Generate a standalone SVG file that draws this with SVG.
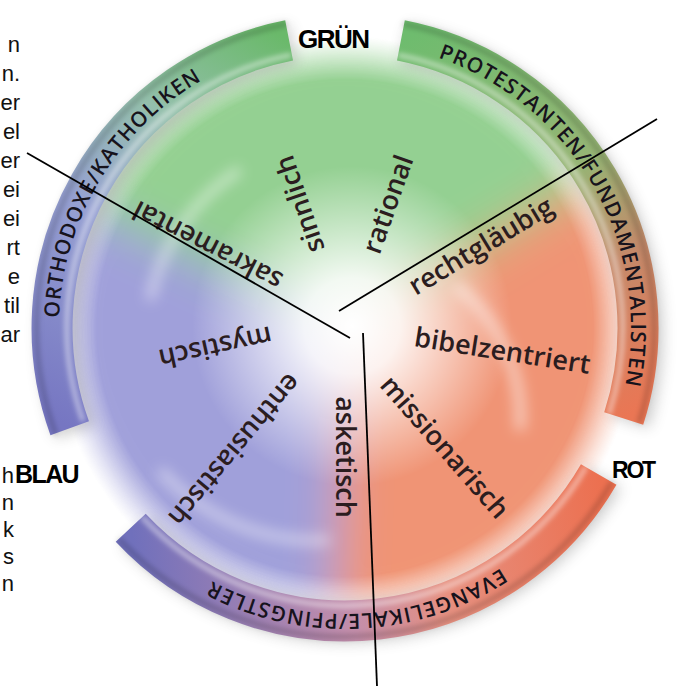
<svg xmlns="http://www.w3.org/2000/svg" width="679" height="686" viewBox="0 0 679 686">
<defs>
  <style>
    .frag{font-family:"Liberation Sans",Arial,sans-serif;font-size:22px;fill:#111;text-anchor:end}
    .lbl{font-family:"Liberation Sans",Arial,sans-serif;font-weight:bold;fill:#000}
    .word{font-family:"Open Sans","Noto Sans",sans-serif;font-weight:600;font-size:27px;fill:#2b1d1f;text-anchor:middle}
    .ring{font-family:"Open Sans","Noto Sans",sans-serif;font-weight:600;font-size:21px;fill:#17131c;letter-spacing:1px}
    .conn{stroke:#000;stroke-width:1.8;fill:none}
    .band{fill:none;stroke-width:41;stroke-linecap:butt}
  </style>
  <filter id="blurBig" x="-30%" y="-30%" width="160%" height="160%"><feGaussianBlur stdDeviation="24"/></filter>
  <filter id="blurMid" x="-20%" y="-20%" width="140%" height="140%"><feGaussianBlur stdDeviation="7"/></filter>
  <filter id="blurSm" x="-10%" y="-10%" width="120%" height="120%"><feGaussianBlur stdDeviation="2.5"/></filter>
  <radialGradient id="discMaskG" cx="345" cy="328" r="292" gradientUnits="userSpaceOnUse">
    <stop offset="0.85" stop-color="#fff"/>
    <stop offset="1" stop-color="#000"/>
  </radialGradient>
  <mask id="discMask"><rect width="679" height="686" fill="url(#discMaskG)"/></mask>
  <radialGradient id="whiteC" cx="352" cy="326" r="160" gradientUnits="userSpaceOnUse">
    <stop offset="0" stop-color="#fff" stop-opacity="1"/>
    <stop offset="0.3" stop-color="#fff" stop-opacity="0.88"/>
    <stop offset="1" stop-color="#fff" stop-opacity="0"/>
  </radialGradient>
  <linearGradient id="gLeft" gradientUnits="userSpaceOnUse" x1="70" y1="428" x2="289" y2="40">
    <stop offset="0" stop-color="#7676c2"/>
    <stop offset="0.45" stop-color="#96a0d2"/>
    <stop offset="0.72" stop-color="#94bfac"/>
    <stop offset="1" stop-color="#6ab96a"/>
  </linearGradient>
  <linearGradient id="gRight" gradientUnits="userSpaceOnUse" x1="401" y1="40" x2="624" y2="418">
    <stop offset="0" stop-color="#6ebc6e"/>
    <stop offset="0.45" stop-color="#96b474"/>
    <stop offset="0.68" stop-color="#c48a6a"/>
    <stop offset="1" stop-color="#ea7654"/>
  </linearGradient>
  <linearGradient id="gBottom" gradientUnits="userSpaceOnUse" x1="599" y1="474" x2="131" y2="528">
    <stop offset="0" stop-color="#ec7050"/>
    <stop offset="0.35" stop-color="#e69080"/>
    <stop offset="0.55" stop-color="#c48eaa"/>
    <stop offset="1" stop-color="#7070bc"/>
  </linearGradient>
  <path id="tpLeft" d="M59.2,318 A286,286 0 0 1 256.6,56"/>
  <path id="tpRight" d="M438.1,57.6 A286,286 0 0 1 610.2,435.1"/>
  <path id="tpBottom" d="M500.8,567.9 A286,286 0 0 1 181,562.3"/>
</defs>

<rect width="679" height="686" fill="#fff"/>

<!-- coloured disc -->
<g id="disc" mask="url(#discMask)">
  <g filter="url(#blurBig)">
    <path d="M345,328 L73.1,201.2 A300,300 0 0 1 602.2,173.5 Z" fill="#94d092"/>
    <path d="M345,328 L602.2,173.5 A300,300 0 0 1 334.5,627.8 Z" fill="#f09474"/>
    <path d="M345,328 L334.5,627.8 A300,300 0 0 1 73.1,201.2 Z" fill="#a0a0da"/>
  </g>
  <g filter="url(#blurMid)" fill="none" stroke="#fff" stroke-opacity="0.55">
    <path d="M160,470 A210,210 0 0 0 330,540" stroke-width="8"/>
    <path d="M455,285 A170,170 0 0 1 520,430" stroke-width="10"/>
    <path d="M150,300 A200,200 0 0 1 240,170" stroke-width="8"/>
  </g>
  <circle cx="352" cy="326" r="170" fill="url(#whiteC)"/>
</g>

<!-- ring shadow -->
<g filter="url(#blurMid)" opacity="0.28" fill="none" stroke="#555" stroke-width="40">
  <path d="M75,432 A296,296 0 0 1 293,44"/>
  <path d="M404,44 A296,296 0 0 1 630,422"/>
  <path d="M604,478 A296,296 0 0 1 136,532"/>
</g>

<!-- ring bands -->
<g id="ring-orthodoxe">
  <path class="band" d="M69.7,428.2 A293,293 0 0 1 289.1,40.4" stroke="url(#gLeft)"/>
  <text class="ring"><textPath href="#tpLeft">ORTHODOXE/KATHOLIKEN</textPath></text>
</g>
<g id="ring-protestanten">
  <path class="band" d="M400.9,40.4 A293,293 0 0 1 623.7,418.5" stroke="url(#gRight)"/>
  <text class="ring"><textPath href="#tpRight">PROTESTANTEN/FUNDAMENTALISTEN</textPath></text>
</g>
<g id="ring-evangelikale">
  <path class="band" d="M598.7,474.5 A293,293 0 0 1 130.7,527.8" stroke="url(#gBottom)"/>
  <text class="ring"><textPath href="#tpBottom">EVANGELIKALE/PFINGSTLER</textPath></text>
</g>
<g filter="url(#blurSm)" fill="none">
  <g stroke="#fff" stroke-opacity="0.45" stroke-width="5">
    <path d="M83,421 A278,278 0 0 1 291,55"/>
    <path d="M398,55 A278,278 0 0 1 609,414"/>
    <path d="M586,467 A278,278 0 0 1 142,517"/>
  </g>
  <g stroke="#000" stroke-opacity="0.18" stroke-width="5">
    <path d="M56,435 A309,309 0 0 1 287,24"/>
    <path d="M403,24 A309,309 0 0 1 639,423"/>
    <path d="M612,482 A309,309 0 0 1 119,539"/>
  </g>
</g>

<!-- inner words -->
<g id="words">
  <text class="word" transform="translate(308.6,201.2) rotate(-109)">sinnlich</text>
  <text class="word" transform="translate(396.6,207.3) rotate(-70.5)">rational</text>
  <text class="word" transform="translate(211.7,237.3) rotate(-152.9)">sakramental</text>
  <text class="word" transform="translate(485.6,254) rotate(-31)">rechtgläubig</text>
  <text class="word" transform="translate(501,360) rotate(9)">bibelzentriert</text>
  <text class="word" transform="translate(437.7,453.1) rotate(48.8)">missionarisch</text>
  <text class="word" transform="translate(336,457) rotate(90)">asketisch</text>
  <text class="word" transform="translate(227.6,444) rotate(130)">enthusiastisch</text>
  <text class="word" transform="translate(213.5,338.2) rotate(167.7)">mystisch</text>
</g>

<!-- connectors -->
<g id="connectors">
  <line class="conn" x1="27" y1="153" x2="350" y2="338"/>
  <line class="conn" x1="339" y1="311" x2="657" y2="119"/>
  <line class="conn" x1="363" y1="333" x2="377" y2="686"/>
</g>

<!-- colour labels -->
<g id="label-gruen"><text class="lbl" x="298" y="48" font-size="26" letter-spacing="-1.5">GRÜN</text></g>
<g id="label-blau"><text class="lbl" x="15" y="483" font-size="25" letter-spacing="-1.6">BLAU</text></g>
<g id="label-rot"><text class="lbl" x="612" y="478" font-size="23" letter-spacing="-2.2">ROT</text></g>

<!-- cut-off text of the page on the left -->
<g id="page-text">
  <text class="frag" x="20" y="52">n</text>
  <text class="frag" x="20" y="81">n.</text>
  <text class="frag" x="20" y="110">er</text>
  <text class="frag" x="20" y="139">el</text>
  <text class="frag" x="20" y="168">er</text>
  <text class="frag" x="20" y="197">ei</text>
  <text class="frag" x="20" y="226">ei</text>
  <text class="frag" x="20" y="255">rt</text>
  <text class="frag" x="20" y="284">e</text>
  <text class="frag" x="20" y="313">til</text>
  <text class="frag" x="20" y="342">ar</text>
  <text class="frag" x="14" y="483">h</text>
  <text class="frag" x="14" y="510">n</text>
  <text class="frag" x="14" y="537">k</text>
  <text class="frag" x="14" y="564">s</text>
  <text class="frag" x="14" y="591">n</text>
</g>
</svg>
